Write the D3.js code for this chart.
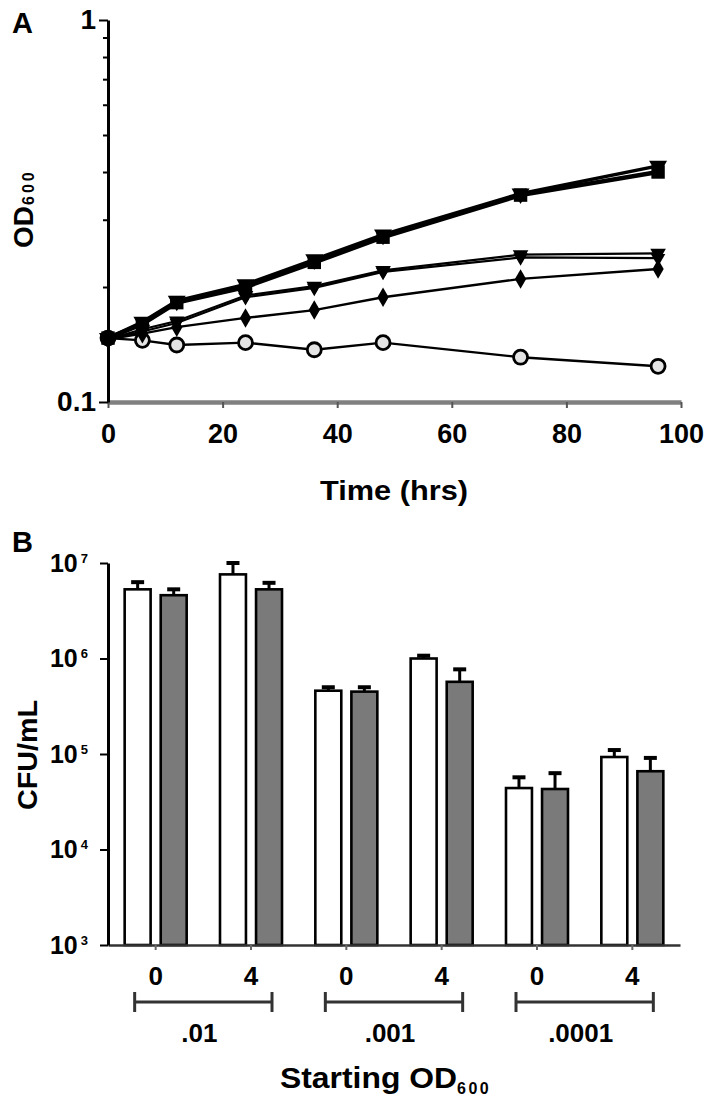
<!DOCTYPE html>
<html>
<head>
<meta charset="utf-8">
<title>Growth and CFU</title>
<style>
  body { margin: 0; background: #fff; }
  svg { display: block; font-family: "Liberation Sans", Arial, sans-serif; font-weight: bold; }
</style>
</head>
<body>
<svg id="chart" width="709" height="1112"></svg>
<script src="https://d3js.org/d3.v7.min.js"></script>
<script>
// ---- panel A data: OD600 over time ----
const hours = [0, 6, 12, 24, 36, 48, 72, 96];
const odSquare   = [0.147, 0.160, 0.182, 0.200, 0.232, 0.270, 0.348, 0.400];
const odTriThick = [0.147, 0.162, 0.184, 0.203, 0.236, 0.274, 0.351, 0.415];
const odTri      = [0.146, 0.155, 0.163, 0.190, 0.201, 0.221, 0.243, 0.245];
const odTri2     = [0.146, 0.153, 0.161, 0.188, 0.199, 0.219, 0.239, 0.238];
const odDiamond  = [0.146, 0.151, 0.157, 0.166, 0.174, 0.188, 0.210, 0.223];
const odCircle   = [0.147, 0.145, 0.141, 0.143, 0.137, 0.143, 0.131, 0.124];
const hourTicks = [0, 20, 40, 60, 80, 100];
const odTicks = [0.1, 0.2, 0.3, 0.4, 0.5, 0.6, 0.7, 0.8, 0.9, 1];

// ---- panel B data: CFU/mL ----
const startOD = [".01", ".001", ".0001"];
const dayLabels = ["0", "4"];
const cfuWhite    = [5.3e6, 7.6e6, 4.6e5, 1.0e6, 4.4e4, 9.3e4];
const cfuWhiteErr = [1.0e6, 2.4e6, 0.4e5, 0.07e6, 1.3e4, 1.7e4];
const cfuGrey     = [4.6e6, 5.3e6, 4.5e5, 5.7e5, 4.3e4, 6.6e4];
const cfuGreyErr  = [0.7e6, 0.9e6, 0.5e5, 2.0e5, 2.0e4, 2.5e4];
const cfuTicks = [1e3, 1e4, 1e5, 1e6, 1e7];

const svg = d3.select("#chart");
const FONT = "Liberation Sans, Arial, sans-serif";

// ================= Panel A =================
const xA = d3.scaleLinear().domain([0, 100]).range([108, 681]);
const yA = d3.scaleLog().domain([0.1, 1]).range([402, 20]);

svg.append("text").attr("x", 12).attr("y", 33).attr("font-size", 29).text("A");

// x axis (grey bar)
const gxA = svg.append("g").attr("transform", "translate(0,402)")
  .call(d3.axisBottom(xA).tickValues(hourTicks).tickSize(6).tickPadding(16).tickSizeOuter(0));
gxA.select(".domain").attr("stroke", "#808080").attr("stroke-width", 4.5);
gxA.selectAll(".tick line").attr("stroke", "#555").attr("stroke-width", 2);
gxA.selectAll(".tick text").attr("font-size", 27).attr("fill", "#000")
  .attr("font-family", FONT).attr("font-weight", "bold");

// y axis
const gyA = svg.append("g").attr("transform", "translate(108,0)")
  .call(d3.axisLeft(yA).tickValues(odTicks).tickSize(5).tickPadding(6).tickSizeOuter(0)
    .tickFormat(d => (d === 1 ? "1" : d === 0.1 ? "0.1" : "")));
gyA.select(".domain").attr("stroke", "#000").attr("stroke-width", 3);
gyA.selectAll(".tick line").attr("stroke", "#000").attr("stroke-width", 2)
  .attr("x2", d => (d === 1 || d === 0.1) ? -9 : -5);
gyA.selectAll(".tick text").attr("font-size", 28).attr("fill", "#000")
  .attr("font-family", FONT).attr("font-weight", "bold")
  .attr("x", -12);

svg.append("text").attr("x", 394).attr("y", 500).attr("text-anchor", "middle")
  .attr("font-size", 28).attr("textLength", 148).attr("lengthAdjust", "spacingAndGlyphs")
  .text("Time (hrs)");

const odLabel = svg.append("text").attr("transform", "translate(33,248) rotate(-90)")
  .attr("font-size", 28);
odLabel.append("tspan").text("OD");
odLabel.append("tspan").attr("font-size", 16).attr("dy", 1).attr("dx", 1)
  .attr("letter-spacing", 3).text("600");

const seriesA = [
  { vals: odCircle,   sym: "circle",   width: 2.4, size: 0 },
  { vals: odDiamond,  sym: d3.symbolDiamond, width: 2.4, size: 110, rot: 0 },
  { vals: odTri2,     sym: d3.symbolTriangle, width: 2.2, size: 90, rot: 180 },
  { vals: odTri,      sym: d3.symbolTriangle, width: 2.2, size: 105, rot: 180 },
  { vals: odTriThick, sym: d3.symbolTriangle, width: 3.5, size: 140, rot: 180 },
  { vals: odSquare,   sym: d3.symbolSquare, width: 4.5, size: 180, rot: 0 }
];

const lineA = d3.line().x(d => xA(d[0])).y(d => yA(d[1]));

seriesA.forEach(s => {
  const pts = hours.map((h, i) => [h, s.vals[i]]);
  svg.append("path").datum(pts).attr("d", lineA)
    .attr("fill", "none").attr("stroke", "#000").attr("stroke-width", s.width);
  if (s.sym === "circle") {
    svg.append("g").selectAll("circle").data(pts).join("circle")
      .attr("cx", d => xA(d[0])).attr("cy", d => yA(d[1])).attr("r", 7)
      .attr("fill", "#e4e4e4").attr("stroke", "#000").attr("stroke-width", 2.8);
  } else {
    svg.append("g").selectAll("path").data(pts).join("path")
      .attr("d", d3.symbol().type(s.sym).size(s.size))
      .attr("transform", d => `translate(${xA(d[0])},${yA(d[1])}) rotate(${s.rot})`)
      .attr("fill", "#000");
  }
});

// ================= Panel B =================
const cats = [];
startOD.forEach(o => dayLabels.forEach(dl => cats.push(o + "|" + dl)));
const x0 = d3.scaleBand().domain(cats).range([108, 680]);
const x1 = d3.scaleBand().domain(["white", "grey"]).range([0, 62]).paddingInner(0.28);
const yB = d3.scaleLog().domain([1e3, 1e7]).range([945, 563]);

svg.append("text").attr("x", 12).attr("y", 552).attr("font-size", 29).text("B");

const center = c => x0(c) + x0.bandwidth() / 2;

const barData = [];
cats.forEach((c, i) => {
  barData.push({ cat: c, key: "white", v: cfuWhite[i], e: cfuWhiteErr[i] });
  barData.push({ cat: c, key: "grey", v: cfuGrey[i], e: cfuGreyErr[i] });
});

// error bars (upper only)
const eb = svg.append("g").selectAll("g").data(barData).join("g")
  .attr("transform", d => `translate(${center(d.cat) - 31 + x1(d.key) + x1.bandwidth() / 2},0)`);
eb.append("line").attr("x1", 0).attr("x2", 0)
  .attr("y1", d => yB(d.v)).attr("y2", d => yB(d.v + d.e))
  .attr("stroke", "#000").attr("stroke-width", 3);
eb.append("line").attr("x1", -6.5).attr("x2", 6.5)
  .attr("y1", d => yB(d.v + d.e)).attr("y2", d => yB(d.v + d.e))
  .attr("stroke", "#000").attr("stroke-width", 4);

svg.append("g").selectAll("rect").data(barData).join("rect")
  .attr("x", d => center(d.cat) - 31 + x1(d.key))
  .attr("width", x1.bandwidth())
  .attr("y", d => yB(d.v))
  .attr("height", d => yB(1e3) - yB(d.v))
  .attr("fill", d => d.key === "white" ? "#fff" : "#7a7a7a")
  .attr("stroke", "#000").attr("stroke-width", 2.6);

// x axis
const gxB = svg.append("g").attr("transform", "translate(0,945)")
  .call(d3.axisBottom(x0).tickSize(5).tickPadding(17).tickSizeOuter(0)
    .tickFormat(c => c.split("|")[1]));
gxB.select(".domain").attr("stroke", "#333").attr("stroke-width", 2.5);
gxB.selectAll(".tick line").attr("stroke", "#666").attr("stroke-width", 2);
gxB.selectAll(".tick text").attr("font-size", 26).attr("fill", "#000")
  .attr("font-family", FONT).attr("font-weight", "bold");

// y axis
const gyB = svg.append("g").attr("transform", "translate(108,0)")
  .call(d3.axisLeft(yB).tickValues(cfuTicks).tickSize(8).tickPadding(6).tickSizeOuter(0)
    .tickFormat(() => ""));
gyB.select(".domain").attr("stroke", "#000").attr("stroke-width", 3);
gyB.selectAll(".tick line").attr("stroke", "#000").attr("stroke-width", 2);
gyB.selectAll(".tick").each(function (d) {
  const t = d3.select(this).append("text").attr("x", -20).attr("y", 8)
    .attr("text-anchor", "end").attr("fill", "#000")
    .attr("font-family", FONT).attr("font-weight", "bold")
    .attr("font-size", 25);
  t.append("tspan").text("10");
  t.append("tspan").attr("font-size", 13).attr("dx", 3).attr("dy", -9)
    .text(Math.round(Math.log10(d)));
});

svg.append("text").attr("transform", "translate(37,755) rotate(-90)")
  .attr("text-anchor", "middle").attr("font-size", 27)
  .attr("textLength", 110).attr("lengthAdjust", "spacingAndGlyphs")
  .text("CFU/mL");

// group brackets
startOD.forEach((o, gi) => {
  const a = center(cats[gi * 2]) - 21;
  const b = center(cats[gi * 2 + 1]) + 21;
  const g = svg.append("g").attr("stroke", "#333").attr("stroke-width", 3);
  g.append("line").attr("x1", a).attr("x2", b).attr("y1", 1002).attr("y2", 1002);
  g.append("line").attr("x1", a).attr("x2", a).attr("y1", 992).attr("y2", 1012);
  g.append("line").attr("x1", b).attr("x2", b).attr("y1", 992).attr("y2", 1012);
  svg.append("text").attr("x", (a + b) / 2 - 4).attr("y", 1042)
    .attr("text-anchor", "middle").attr("font-size", 26).text(o);
});

const sLabel = svg.append("text").attr("x", 280).attr("y", 1088).attr("font-size", 29);
sLabel.append("tspan").attr("textLength", 177).attr("lengthAdjust", "spacingAndGlyphs").text("Starting OD");
sLabel.append("tspan").attr("font-size", 16).attr("dy", 6).attr("letter-spacing", 2.5).text("600");
</script>
</body>
</html>
